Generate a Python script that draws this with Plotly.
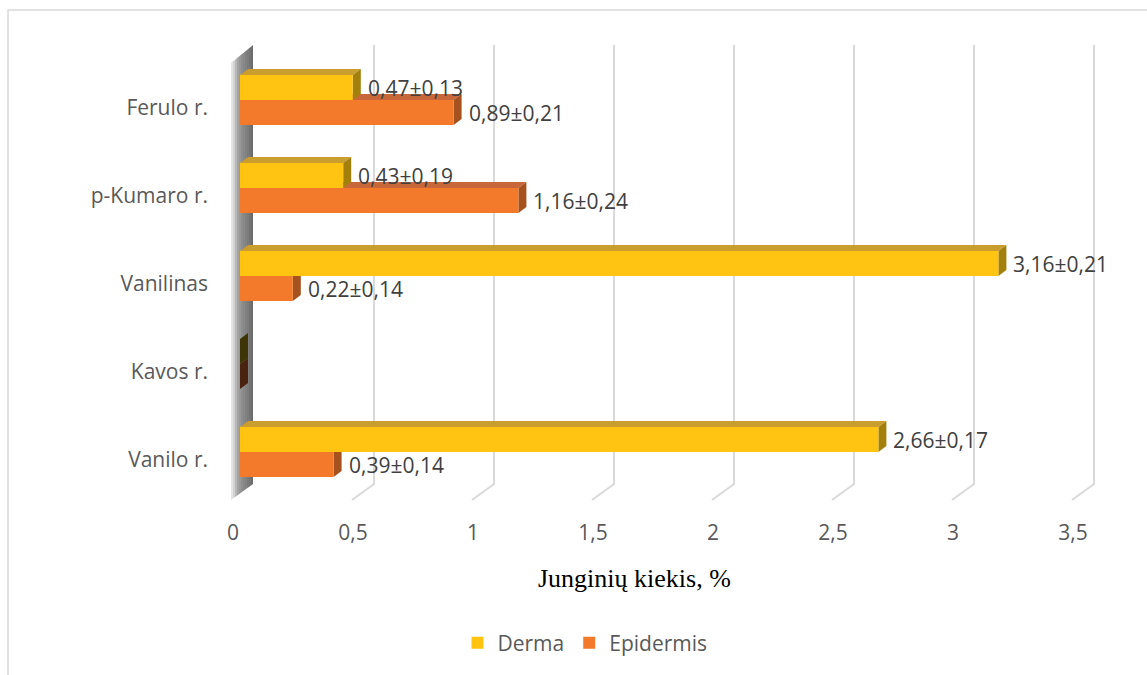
import plotly.graph_objects as go

# Junginių kiekis (%) derma ir epidermyje
categories = ["Vanilo r.", "Kavos r.", "Vanilinas", "p-Kumaro r.", "Ferulo r."]
derma = [2.66, 0.0, 3.16, 0.43, 0.47]
derma_err = [0.17, None, 0.21, 0.19, 0.13]
epidermis = [0.39, 0.0, 0.22, 1.16, 0.89]
epidermis_err = [0.14, None, 0.14, 0.24, 0.21]
x_ticks = [0, 0.5, 1, 1.5, 2, 2.5, 3, 3.5]
x_ticklabels = ["0", "0,5", "1", "1,5", "2", "2,5", "3", "3,5"]

W, H = 1147, 675
ML, MR, MT, MB = 211, 31, 40, 165
PX_PER_X = 240.0
PX_PER_Y = 88.0
plot_w = W - ML - MR
plot_h = H - MT - MB
x0 = -29 / PX_PER_X
x_range = [x0, x0 + plot_w / PX_PER_X]
y_top = (452 - MT) / PX_PER_Y
y_range = [y_top - plot_h / PX_PER_Y, y_top]

BAR_W = 25 / PX_PER_Y          # thickness of one bar
DX = 8 / PX_PER_X              # depth of the 3D extrusion (x)
DY = 6 / PX_PER_Y              # depth of the 3D extrusion (y)

FONT = "Open Sans"
TXT = "#595959"
FS = 21

series = [
    # name, values, errors, front, top face, end face, cap colour at zero, offset
    ("Epidermis", epidermis, epidermis_err, "#F27A2A", "#C8683A", "#A5521F", "#4A2210", -BAR_W),
    ("Derma", derma, derma_err, "#FFC312", "#C99D2E", "#A3800C", "#3F3406", 0.0),
]

fig = go.Figure()
shapes = []
annotations = []


def to_paper(px, py):
    return (px - ML) / plot_w, 1 - (py - MT) / plot_h


# outer chart frame
fx0, fy0 = to_paper(8, 10)
fx1, fy1 = to_paper(W + 20, H + 20)
shapes.append(dict(type="rect", xref="paper", yref="paper", x0=fx0, y0=fy1, x1=fx1, y1=fy0,
                   line=dict(color="#D9D9D9", width=1.5), fillcolor="rgba(0,0,0,0)", layer="below"))

# vertical gridlines on the back wall with the floor edge running to the front
GB = 14 / PX_PER_X
GF = 8 / PX_PER_X
g_top = (452 - 45) / PX_PER_Y
g_back = (452 - 484) / PX_PER_Y
g_front = (452 - 500) / PX_PER_Y
for v in x_ticks[1:]:
    shapes.append(dict(type="path", xref="x", yref="y", layer="below",
                       path=f"M {v + GB},{g_top} L {v + GB},{g_back} L {v - GF},{g_front}",
                       line=dict(color="#D9D9D9", width=2)))

# side wall of the category axis, shaded in strips
wl, wr = -9 / PX_PER_X, 13 / PX_PER_X
wl_top, wr_top = (452 - 63) / PX_PER_Y, (452 - 45) / PX_PER_Y
wl_bot, wr_bot = (452 - 500) / PX_PER_Y, (452 - 484) / PX_PER_Y
wall_cols = ["#E4E4E4", "#D2D2D2", "#B8B8B8", "#A4A4A4", "#989898", "#8E8E8E",
             "#878787", "#818181", "#7B7B7B", "#747474", "#6C6C6C"]
n = len(wall_cols)
for i, c in enumerate(wall_cols):
    a, b = i / n, (i + 1) / n
    xa, xb = wl + (wr - wl) * a, wl + (wr - wl) * b
    ta, tb = wl_top + (wr_top - wl_top) * a, wl_top + (wr_top - wl_top) * b
    ba, bb = wl_bot + (wr_bot - wl_bot) * a, wl_bot + (wr_bot - wl_bot) * b
    shapes.append(dict(type="path", xref="x", yref="y", layer="below",
                       path=f"M {xa},{ba} L {xa},{ta} L {xb},{tb} L {xb},{bb} Z",
                       fillcolor=c, line=dict(width=0)))

for name, vals, errs, front, top, end, zero_cap, off in series:
    fig.add_trace(go.Bar(
        name=name, y=list(range(len(categories))), x=vals, orientation="h",
        width=BAR_W, offset=off, marker=dict(color=front, line=dict(width=0)),
        legendrank=2 if name == "Epidermis" else 1,
    ))
    for i, v in enumerate(vals):
        yb = i + off
        yt = yb + BAR_W
        shapes.append(dict(type="path", xref="x", yref="y", layer="below",
                           path=f"M 0,{yt} L {v},{yt} L {v + DX},{yt + DY} L {DX},{yt + DY} Z",
                           fillcolor=top, line=dict(width=0)))
        shapes.append(dict(type="path", xref="x", yref="y", layer="below",
                           path=f"M {v},{yb} L {v},{yt} L {v + DX},{yt + DY} L {v + DX},{yb + DY} Z",
                           fillcolor=end if v > 0 else zero_cap, line=dict(width=0)))
        if errs[i] is not None:
            label = f"{v:.2f}±{errs[i]:.2f}".replace(".", ",")
            annotations.append(dict(x=v, y=(yb + yt) / 2, xref="x", yref="y", text=label,
                                    showarrow=False, xanchor="left", yanchor="middle",
                                    xshift=13, font=dict(family=FONT, size=FS, color="#404040")))

# axis title
tx, ty = to_paper(634, 578)
annotations.append(dict(x=tx, y=ty, xref="paper", yref="paper", text="Junginių kiekis, %",
                        showarrow=False, xanchor="center", yanchor="middle",
                        font=dict(family="Liberation Serif", size=26, color="#000000")))

lx, ly = to_paper(585, 643)
fig.update_layout(
    width=W, height=H,
    margin=dict(l=ML, r=MR, t=MT, b=MB, autoexpand=False),
    paper_bgcolor="white", plot_bgcolor="white",
    barmode="overlay",
    showlegend=True,
    legend=dict(orientation="h", x=lx, y=ly, xanchor="center", yanchor="middle",
                font=dict(family=FONT, size=FS, color=TXT), itemwidth=30),
    shapes=shapes, annotations=annotations,
    xaxis=dict(range=x_range, tickvals=x_ticks, ticktext=x_ticklabels, showgrid=False,
               zeroline=False, showline=False, ticks="", ticklabelshift=-7, ticklabelstandoff=8,
               tickfont=dict(family=FONT, size=FS, color=TXT), fixedrange=True),
    yaxis=dict(range=y_range, tickvals=list(range(len(categories))), ticktext=categories,
               showgrid=False, zeroline=False, showline=False, ticks="", ticklabelshift=8,
               ticklabelstandoff=2, tickfont=dict(family=FONT, size=FS, color=TXT), fixedrange=True),
    font=dict(family=FONT),
)

fig.write_html("out.html")
